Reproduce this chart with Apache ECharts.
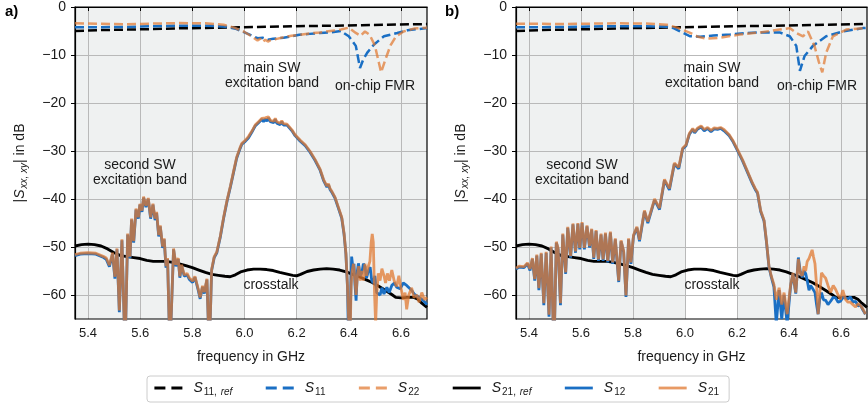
<!DOCTYPE html>
<html>
<head>
<meta charset="utf-8">
<title>S-parameters: SW excitation bands</title>
<script src="https://cdn.jsdelivr.net/npm/echarts@6/dist/echarts.min.js"></script>
<style>
  html, body { margin: 0; padding: 0; background: #ffffff; }
  #chart { width: 868px; height: 408px; }
</style>
</head>
<body>
<div id="chart"></div>
<script>
// ---- axes ----
const X_MIN = 5.35, X_MAX = 6.70;
const Y_MIN = -65, Y_MAX = 0;
const X_TICKS = [5.4, 5.6, 5.8, 6.0, 6.2, 6.4, 6.6];
const Y_TICKS = [0, -10, -20, -30, -40, -50, -60];
const BAND = [6.0, 6.2];   // main SW excitation band, left unshaded

// ---- reflection, reference structure (both panels) ----
const s11Ref = [[5.35,-5.0],[5.45,-4.8],[5.55,-4.7],[5.65,-4.6],[5.75,-4.45],[5.85,-4.35],[5.95,-4.25],[6.05,-4.15],[6.15,-4.05],[6.25,-3.95],[6.35,-3.9],[6.45,-3.8],[6.55,-3.7],[6.65,-3.6],[6.70,-3.55]];

// ---- crosstalk, reference structure (both panels) ----
const s21Ref = [[5.35,-49.8],[5.375,-49.5],[5.40,-49.4],[5.425,-49.5],[5.45,-49.8],[5.475,-50.4],[5.50,-51.2],[5.525,-51.8],[5.55,-52.0],[5.575,-52.2],[5.60,-52.4],[5.625,-52.8],[5.65,-53.0],[5.675,-53.0],[5.70,-53.0],[5.725,-53.2],[5.75,-53.5],[5.775,-53.9],[5.80,-54.3],[5.825,-54.8],[5.85,-55.3],[5.875,-55.7],[5.90,-55.9],[5.925,-56.1],[5.945,-56.2],[5.965,-55.8],[5.985,-55.2],[6.01,-54.8],[6.035,-54.6],[6.06,-54.6],[6.085,-54.7],[6.11,-54.9],[6.135,-55.3],[6.16,-55.6],[6.185,-55.9],[6.20,-56.0],[6.215,-55.7],[6.24,-55.1],[6.265,-54.8],[6.29,-54.6],[6.315,-54.5],[6.34,-54.6],[6.365,-54.8],[6.39,-55.2],[6.415,-55.7],[6.44,-56.2],[6.465,-56.8],[6.49,-57.4],[6.515,-58.2],[6.54,-59.0],[6.565,-59.9],[6.58,-60.5],[6.60,-60.6],[6.625,-60.5],[6.65,-60.5],[6.665,-60.9],[6.68,-61.7],[6.70,-62.6]];

// ---- panel a) ----
const s11A = [[5.35,-4.2],[5.45,-4.2],[5.55,-4.15],[5.65,-4.0],[5.75,-3.9],[5.85,-3.9],[5.93,-4.1],[5.97,-4.6],[6.0,-5.3],[6.03,-6.0],[6.05,-6.5],[6.07,-6.4],[6.09,-6.8],[6.11,-6.6],[6.13,-6.5],[6.15,-6.4],[6.18,-6.1],[6.21,-5.8],[6.25,-5.6],[6.29,-5.4],[6.33,-5.3],[6.37,-5.0],[6.40,-6.1],[6.427,-8.1],[6.443,-12.7],[6.455,-11.0],[6.471,-9.5],[6.497,-7.8],[6.535,-6.1],[6.586,-5.4],[6.625,-4.85],[6.70,-4.4]];
const s22A = [[5.35,-3.4],[5.45,-3.5],[5.55,-3.6],[5.65,-3.45],[5.75,-3.35],[5.85,-3.4],[5.92,-3.7],[5.96,-4.3],[6.0,-5.2],[6.03,-6.2],[6.05,-7.0],[6.06,-6.6],[6.07,-7.3],[6.08,-6.8],[6.09,-7.2],[6.10,-6.9],[6.12,-6.7],[6.15,-6.3],[6.18,-6.0],[6.21,-5.8],[6.25,-5.5],[6.29,-5.3],[6.33,-5.0],[6.37,-4.7],[6.40,-4.3],[6.427,-5.4],[6.445,-6.0],[6.462,-5.1],[6.48,-5.8],[6.50,-8.0],[6.515,-11.5],[6.524,-13.6],[6.54,-11.0],[6.56,-8.0],[6.58,-6.2],[6.61,-5.1],[6.65,-4.5],[6.70,-4.3]];
const s12A = [[5.35,-51.8],[5.37,-51.5],[5.40,-51.4],[5.43,-51.5],[5.46,-52.2],[5.470,-52.6],[5.482,-54.1],[5.494,-51.4],[5.503,-56.6],[5.511,-50.5],[5.520,-63.6],[5.530,-48.6],[5.542,-72],[5.552,-47.4],[5.561,-52.3],[5.567,-44.3],[5.575,-49.1],[5.584,-42.2],[5.593,-44.1],[5.599,-41.2],[5.607,-42.7],[5.613,-39.7],[5.622,-41.7],[5.631,-40.0],[5.640,-44.1],[5.649,-41.2],[5.657,-44.4],[5.663,-42.9],[5.671,-47.8],[5.677,-45.7],[5.686,-50.2],[5.692,-48.4],[5.699,-54.3],[5.705,-52.5],[5.714,-72],[5.728,-50.5],[5.737,-54.0],[5.746,-52.5],[5.752,-56.4],[5.759,-53.9],[5.769,-56.1],[5.780,-55.8],[5.788,-56.7],[5.801,-57.4],[5.810,-56.3],[5.823,-59.1],[5.830,-60.8],[5.839,-58.3],[5.846,-59.7],[5.856,-56.8],[5.865,-72],[5.874,-54.9],[5.884,-52.2],[5.894,-51.2],[5.907,-48.0],[5.920,-44.0],[5.933,-40.5],[5.946,-37.5],[5.958,-34.5],[5.970,-31.5],[5.983,-29.5],[5.990,-28.6],[6.003,-28.0],[6.015,-27.3],[6.028,-26.1],[6.041,-24.8],[6.054,-24.1],[6.067,-23.4],[6.073,-23.9],[6.079,-23.3],[6.086,-23.8],[6.092,-23.1],[6.099,-23.9],[6.105,-23.6],[6.112,-24.1],[6.118,-23.4],[6.124,-24.2],[6.130,-24.0],[6.137,-24.5],[6.143,-23.9],[6.150,-24.6],[6.156,-24.4],[6.163,-24.6],[6.169,-24.8],[6.182,-25.8],[6.194,-26.8],[6.213,-27.9],[6.233,-28.9],[6.252,-30.3],[6.271,-32.0],[6.290,-34.0],[6.303,-36.1],[6.316,-37.5],[6.322,-37.0],[6.328,-38.0],[6.335,-38.6],[6.347,-39.8],[6.360,-41.9],[6.373,-44.0],[6.382,-47.4],[6.389,-51.5],[6.395,-58.3],[6.400,-72],[6.405,-66],[6.411,-52.0],[6.416,-54.5],[6.420,-53.5],[6.424,-58.0],[6.428,-61.2],[6.433,-55.0],[6.437,-53.4],[6.444,-56.0],[6.450,-55.4],[6.456,-53.5],[6.462,-54.0],[6.468,-56.5],[6.475,-55.0],[6.482,-54.2],[6.488,-57.0],[6.494,-57.5],[6.500,-56.0],[6.507,-59.5],[6.513,-59.2],[6.520,-60.0],[6.527,-58.5],[6.535,-59.8],[6.546,-58.4],[6.555,-59.5],[6.565,-58.0],[6.575,-57.5],[6.584,-58.4],[6.597,-58.7],[6.609,-57.5],[6.622,-58.0],[6.633,-58.6],[6.641,-59.0],[6.651,-59.8],[6.661,-60.2],[6.670,-60.5],[6.680,-60.9],[6.690,-61.4],[6.700,-62.0]];
const s21A = [[5.35,-51.6],[5.37,-51.3],[5.40,-51.2],[5.43,-51.3],[5.46,-52.0],[5.470,-52.3],[5.482,-53.8],[5.494,-51.2],[5.503,-56.2],[5.511,-50.3],[5.520,-63.2],[5.530,-48.4],[5.542,-72],[5.552,-47.2],[5.561,-52.0],[5.567,-44.1],[5.575,-48.8],[5.584,-42.0],[5.593,-43.8],[5.599,-41.0],[5.607,-42.4],[5.613,-39.5],[5.622,-41.4],[5.631,-39.8],[5.640,-43.8],[5.649,-41.0],[5.657,-44.1],[5.663,-42.7],[5.671,-47.5],[5.677,-45.5],[5.686,-49.9],[5.692,-48.2],[5.699,-54.0],[5.705,-52.3],[5.714,-72],[5.728,-50.3],[5.737,-53.7],[5.746,-52.3],[5.752,-56.1],[5.759,-53.7],[5.769,-55.8],[5.780,-55.5],[5.788,-56.4],[5.801,-57.1],[5.810,-56.1],[5.823,-58.8],[5.830,-60.5],[5.839,-58.1],[5.846,-59.4],[5.856,-56.6],[5.865,-72],[5.874,-54.7],[5.884,-52.0],[5.894,-51.0],[5.907,-47.8],[5.920,-43.8],[5.933,-40.3],[5.946,-37.3],[5.958,-34.3],[5.970,-31.3],[5.983,-29.3],[5.990,-28.4],[6.003,-27.8],[6.015,-27.0],[6.028,-25.9],[6.041,-24.6],[6.054,-23.9],[6.067,-23.2],[6.073,-23.6],[6.079,-23.1],[6.086,-23.5],[6.092,-22.9],[6.099,-23.6],[6.105,-23.4],[6.112,-23.8],[6.118,-23.2],[6.124,-23.9],[6.130,-23.8],[6.137,-24.2],[6.143,-23.7],[6.150,-24.3],[6.156,-24.2],[6.163,-24.4],[6.169,-24.6],[6.182,-25.6],[6.194,-26.6],[6.213,-27.7],[6.233,-28.7],[6.252,-30.1],[6.271,-31.8],[6.290,-33.8],[6.303,-35.9],[6.316,-37.3],[6.322,-36.8],[6.328,-37.8],[6.335,-38.4],[6.347,-39.6],[6.360,-41.7],[6.373,-43.8],[6.382,-47.2],[6.389,-51.3],[6.395,-58.1],[6.400,-66],[6.404,-72],[6.409,-58.0],[6.413,-55.0],[6.418,-53.5],[6.423,-56.5],[6.428,-60.0],[6.433,-56.0],[6.438,-54.0],[6.444,-57.0],[6.450,-55.0],[6.456,-57.0],[6.462,-53.5],[6.468,-56.0],[6.475,-54.0],[6.481,-53.0],[6.486,-49.0],[6.490,-47.3],[6.494,-49.0],[6.499,-60.0],[6.503,-66.0],[6.507,-60.0],[6.513,-55.5],[6.520,-57.0],[6.527,-54.5],[6.535,-56.0],[6.541,-57.5],[6.548,-55.5],[6.556,-57.0],[6.565,-54.8],[6.574,-57.0],[6.584,-58.2],[6.592,-56.0],[6.600,-58.5],[6.609,-61.0],[6.616,-59.5],[6.622,-63.0],[6.630,-60.0],[6.641,-58.5],[6.650,-60.5],[6.661,-60.0],[6.670,-61.5],[6.680,-59.5],[6.690,-61.0],[6.700,-60.5]];

// ---- panel b) ----
const s11B = [[5.35,-4.2],[5.45,-4.2],[5.55,-4.15],[5.65,-4.05],[5.75,-4.0],[5.85,-4.0],[5.93,-4.1],[5.956,-4.4],[5.981,-5.1],[6.02,-6.1],[6.058,-6.2],[6.109,-5.95],[6.173,-5.75],[6.236,-5.4],[6.30,-5.3],[6.364,-5.3],[6.403,-6.1],[6.428,-8.1],[6.442,-13.3],[6.46,-10.2],[6.492,-8.1],[6.543,-6.1],[6.607,-5.1],[6.684,-4.4],[6.70,-4.35]];
const s22B = [[5.35,-3.5],[5.45,-3.5],[5.55,-3.55],[5.65,-3.45],[5.75,-3.4],[5.85,-3.45],[5.93,-3.7],[5.97,-4.3],[6.02,-5.4],[6.05,-6.2],[6.083,-6.6],[6.134,-6.4],[6.211,-5.75],[6.288,-5.3],[6.364,-4.7],[6.403,-4.4],[6.428,-5.4],[6.454,-6.1],[6.473,-5.1],[6.498,-8.1],[6.515,-11.5],[6.528,-13.6],[6.543,-9.5],[6.569,-6.1],[6.62,-4.7],[6.684,-4.4],[6.70,-4.35]];
const s12B = [[5.35,-54.6],[5.362,-54.2],[5.381,-54.3],[5.394,-53.5],[5.404,-54.9],[5.413,-52.5],[5.422,-57.0],[5.430,-51.8],[5.438,-59.0],[5.447,-51.4],[5.457,-62.1],[5.466,-51.2],[5.477,-64.5],[5.485,-50.1],[5.496,-72],[5.505,-49.1],[5.512,-50.5],[5.521,-62.1],[5.530,-47.4],[5.541,-55.6],[5.549,-46.0],[5.560,-52.2],[5.569,-45.3],[5.579,-51.2],[5.588,-45.2],[5.595,-50.5],[5.604,-45.0],[5.613,-50.5],[5.623,-45.7],[5.633,-50.1],[5.641,-46.4],[5.649,-52.5],[5.658,-46.7],[5.667,-52.9],[5.677,-47.4],[5.685,-52.9],[5.694,-47.2],[5.703,-53.2],[5.713,-47.0],[5.722,-53.5],[5.732,-48.4],[5.745,-57.3],[5.754,-48.8],[5.764,-51.0],[5.773,-60.4],[5.783,-48.4],[5.792,-53.5],[5.802,-47.7],[5.815,-46.0],[5.825,-48.8],[5.844,-42.6],[5.857,-45.0],[5.883,-40.2],[5.902,-42.2],[5.921,-36.1],[5.940,-38.1],[5.959,-32.7],[5.976,-33.7],[5.991,-29.6],[6.004,-28.9],[6.017,-26.5],[6.030,-25.5],[6.037,-26.2],[6.043,-26.2],[6.049,-25.4],[6.055,-25.8],[6.062,-25.0],[6.068,-25.1],[6.074,-25.8],[6.081,-25.9],[6.087,-25.3],[6.093,-25.5],[6.100,-26.0],[6.106,-25.8],[6.112,-25.4],[6.118,-25.7],[6.125,-25.5],[6.131,-25.9],[6.137,-25.3],[6.144,-25.5],[6.150,-25.8],[6.157,-25.7],[6.170,-26.8],[6.183,-27.9],[6.202,-29.9],[6.221,-32.0],[6.240,-34.4],[6.259,-36.8],[6.270,-38.0],[6.279,-38.8],[6.291,-42.6],[6.304,-44.6],[6.313,-48.8],[6.323,-54.2],[6.332,-56.3],[6.342,-58.3],[6.351,-66],[6.362,-59.0],[6.372,-65],[6.381,-60.0],[6.393,-66],[6.406,-58.2],[6.415,-55.6],[6.426,-59.7],[6.436,-52.2],[6.443,-55.0],[6.451,-56.3],[6.458,-55.0],[6.464,-55.5],[6.470,-57.0],[6.477,-59.0],[6.483,-58.0],[6.489,-58.5],[6.500,-59.5],[6.506,-62.0],[6.512,-64.0],[6.518,-61.0],[6.525,-59.5],[6.533,-61.0],[6.541,-61.1],[6.550,-62.0],[6.560,-61.3],[6.570,-60.5],[6.579,-60.6],[6.589,-61.5],[6.598,-61.3],[6.607,-60.5],[6.617,-60.6],[6.627,-60.8],[6.636,-60.4],[6.646,-61.5],[6.656,-61.3],[6.666,-62.3],[6.675,-62.1],[6.685,-63.2],[6.694,-64.0]];
const s21B = [[5.35,-54.4],[5.362,-54.0],[5.381,-54.1],[5.394,-53.3],[5.404,-54.6],[5.413,-52.3],[5.422,-56.7],[5.430,-51.6],[5.438,-58.6],[5.447,-51.2],[5.457,-61.7],[5.466,-51.0],[5.477,-64.1],[5.485,-49.9],[5.496,-72],[5.505,-48.9],[5.512,-50.3],[5.521,-61.7],[5.530,-47.2],[5.541,-55.3],[5.549,-45.8],[5.560,-51.9],[5.569,-45.1],[5.579,-50.9],[5.588,-45.0],[5.595,-50.2],[5.604,-44.8],[5.613,-50.2],[5.623,-45.5],[5.633,-49.8],[5.641,-46.2],[5.649,-52.2],[5.658,-46.5],[5.667,-52.6],[5.677,-47.2],[5.685,-52.6],[5.694,-47.0],[5.703,-52.9],[5.713,-46.8],[5.722,-53.2],[5.732,-48.2],[5.745,-57.0],[5.754,-48.6],[5.764,-50.8],[5.773,-60.1],[5.783,-48.2],[5.792,-53.2],[5.802,-47.5],[5.815,-45.8],[5.825,-48.5],[5.844,-42.4],[5.857,-44.7],[5.883,-40.0],[5.902,-41.9],[5.921,-35.9],[5.940,-37.8],[5.959,-32.5],[5.976,-33.4],[5.991,-29.4],[6.004,-28.7],[6.017,-26.3],[6.030,-25.3],[6.037,-26.0],[6.043,-25.9],[6.049,-25.2],[6.055,-25.5],[6.062,-24.8],[6.068,-24.9],[6.074,-25.5],[6.081,-25.6],[6.087,-25.1],[6.093,-25.3],[6.100,-25.7],[6.106,-25.5],[6.112,-25.2],[6.118,-25.4],[6.125,-25.3],[6.131,-25.6],[6.137,-25.1],[6.144,-25.3],[6.150,-25.5],[6.157,-25.5],[6.170,-26.6],[6.183,-27.7],[6.202,-29.7],[6.221,-31.8],[6.240,-34.2],[6.259,-36.6],[6.270,-37.8],[6.279,-38.6],[6.291,-42.4],[6.304,-44.4],[6.313,-48.6],[6.323,-54.0],[6.332,-56.1],[6.342,-57.8],[6.351,-61.0],[6.362,-58.5],[6.372,-62.0],[6.381,-59.5],[6.393,-64.0],[6.406,-58.0],[6.415,-55.4],[6.426,-59.5],[6.436,-52.5],[6.443,-55.5],[6.451,-56.0],[6.458,-54.0],[6.464,-55.0],[6.470,-53.0],[6.477,-52.4],[6.483,-51.5],[6.489,-50.6],[6.494,-52.0],[6.500,-53.5],[6.506,-58.0],[6.512,-64.0],[6.518,-60.0],[6.525,-55.4],[6.533,-56.0],[6.541,-56.5],[6.550,-58.0],[6.560,-59.5],[6.570,-58.0],[6.579,-58.8],[6.589,-60.0],[6.598,-60.9],[6.607,-59.0],[6.617,-60.9],[6.627,-61.5],[6.636,-61.5],[6.646,-62.0],[6.656,-62.5],[6.666,-61.8],[6.675,-62.2],[6.685,-63.0],[6.694,-64.0]];

const SERIES_NAMES = ['S11,ref', 'S11', 'S22', 'S21,ref', 'S12', 'S21'];
const PANEL_LABELS = ['a)', 'b)'];

// ---- styling ----
const FONT = '"Liberation Sans", Arial, Helvetica, sans-serif';
const TXT = '#1a1a1a';
const BLUE = '#1a6fc4';
const ORANGE = '#e07830';
const SHADE = '#eff1f1';
const GRIDLINE = '#b9b9b9';
const DASH = [9, 4];

const panels = [
  { grid: { left: 75, top: 4, width: 352, height: 315 },
    data: [s11Ref, s11A, s22A, s21Ref, s12A, s21A] },
  { grid: { left: 516, top: 4, width: 351, height: 315 },
    data: [s11Ref, s11B, s22B, s21Ref, s12B, s21B] }
];

const lineStyles = [
  { color: '#000000', width: 2.5, type: DASH },
  { color: BLUE, width: 2.5, type: DASH },
  { color: ORANGE, width: 2.5, type: DASH, opacity: 0.72 },
  { color: '#000000', width: 2.9, type: 'solid' },
  { color: BLUE, width: 2.8, type: 'solid' },
  { color: ORANGE, width: 2.8, type: 'solid', opacity: 0.75 }
];

const subRich = {
  S: { fontFamily: FONT, fontSize: 14, fontStyle: 'italic', color: TXT, lineHeight: 18 },
  sub: { fontFamily: FONT, fontSize: 10, color: TXT, lineHeight: 10, verticalAlign: 'bottom', padding: [4, 0, 0, 1] },
  subi: { fontFamily: FONT, fontSize: 10, fontStyle: 'italic', color: TXT, lineHeight: 10, verticalAlign: 'bottom', padding: [4, 0, 0, 1] },
  t: { fontFamily: FONT, fontSize: 14, color: TXT, lineHeight: 18 }
};

const grids = [], xAxes = [], yAxes = [], series = [];

panels.forEach((p, i) => {
  grids.push(Object.assign({ show: true, borderColor: '#000', borderWidth: 1.2, backgroundColor: 'transparent', containLabel: false }, p.grid));

  xAxes.push({
    type: 'value', gridIndex: i, min: X_MIN, max: X_MAX,
    name: 'frequency in GHz', nameLocation: 'middle', nameGap: 31,
    nameTextStyle: { fontFamily: FONT, fontSize: 14, color: TXT },
    axisLine: { show: true, lineStyle: { color: '#000', width: 1.2 } },
    axisTick: { show: true, inside: false, length: 4, customValues: X_TICKS, lineStyle: { color: '#000', width: 1 } },
    axisLabel: { customValues: X_TICKS, margin: 8, fontFamily: FONT, fontSize: 13, color: TXT, formatter: v => v.toFixed(1) },
    splitLine: { show: false }
  });

  yAxes.push({
    type: 'value', gridIndex: i, min: Y_MIN, max: Y_MAX,
    name: '{t||}{S|S}{subi|xx, xy}{t|| in dB}', nameLocation: 'middle', nameGap: 46, nameRotate: 90,
    nameTextStyle: { rich: subRich },
    axisLine: { show: true, lineStyle: { color: '#000', width: 1.2 } },
    axisTick: { show: true, inside: false, length: 4, customValues: Y_TICKS, lineStyle: { color: '#000', width: 1 } },
    axisLabel: { customValues: Y_TICKS, margin: 9, fontFamily: FONT, fontSize: 14, color: TXT,
                 formatter: v => (v < 0 ? '\u2212' + Math.abs(v) : String(v)) },
    splitLine: { show: false }
  });

  // shaded plot background outside the main band, plus the tick grid
  series.push({
    type: 'line', xAxisIndex: i, yAxisIndex: i, data: [], silent: true,
    markArea: {
      z: -5, silent: true, itemStyle: { color: SHADE },
      data: [[{ xAxis: X_MIN }, { xAxis: BAND[0] }], [{ xAxis: BAND[1] }, { xAxis: X_MAX }]]
    },
    markLine: {
      z: -4, silent: true, symbol: ['none', 'none'], label: { show: false },
      lineStyle: { color: GRIDLINE, width: 1, type: 'solid' },
      emphasis: { disabled: true },
      data: X_TICKS.map(v => ({ xAxis: v })).concat(Y_TICKS.filter(v => v > Y_MIN && v < Y_MAX).map(v => ({ yAxis: v })))
    }
  });

  SERIES_NAMES.forEach((name, k) => {
    series.push({
      name, type: 'line', xAxisIndex: i, yAxisIndex: i,
      data: p.data[k], showSymbol: false, symbol: 'none', clip: true,
      lineStyle: lineStyles[k], itemStyle: { color: lineStyles[k].color },
      emphasis: { disabled: true }, z: 2 + k
    });
  });
});

function legendLabel(name) {
  const parts = name.slice(1).split(',');
  let s = '{S|S}{sub|' + parts[0] + (parts[1] ? ',' : '') + '}';
  if (parts[1]) s += '{subi| ' + parts[1] + '}';
  return s;
}

const legendItems = SERIES_NAMES.map((name, k) => ({
  name,
  lineStyle: { width: 2.8, type: lineStyles[k].type === 'solid' ? 'solid' : [11, 6] }
}));

const annoStyle = { fontFamily: FONT, fontSize: 14, fill: TXT, textAlign: 'center', textVerticalAlign: 'middle', lineHeight: 15 };
function anno(text, x, y) {
  return { type: 'text', x, y, z: 10, silent: true, style: Object.assign({ text }, annoStyle) };
}

const chart = echarts.init(document.getElementById('chart'), null, { renderer: 'canvas' });
chart.setOption({
  animation: false,
  backgroundColor: '#ffffff',
  grid: grids,
  xAxis: xAxes,
  yAxis: yAxes,
  legend: {
    data: legendItems, left: 147, top: 376,
    padding: [5, 10, 5, 6], itemGap: 32, itemWidth: 28, itemHeight: 14,
    borderColor: '#cccccc', borderWidth: 1, borderRadius: 3, backgroundColor: '#ffffff',
    itemStyle: { opacity: 0 },
    formatter: legendLabel,
    textStyle: { rich: Object.assign({}, subRich, { S: Object.assign({}, subRich.S, { padding: [0, 0, 0, 6] }) }) },
    selectedMode: false
  },
  graphic: [
    { type: 'text', x: 5, y: 12, style: { text: PANEL_LABELS[0], fontFamily: FONT, fontSize: 15, fontWeight: 'bold', fill: '#000', textVerticalAlign: 'middle' } },
    { type: 'text', x: 445, y: 12, style: { text: PANEL_LABELS[1], fontFamily: FONT, fontSize: 15, fontWeight: 'bold', fill: '#000', textVerticalAlign: 'middle' } },
    anno('main SW\nexcitation band', 272, 76),
    anno('on-chip FMR', 375, 86),
    anno('second SW\nexcitation band', 140, 173),
    anno('crosstalk', 271, 285),
    anno('main SW\nexcitation band', 712, 76),
    anno('on-chip FMR', 817, 86),
    anno('second SW\nexcitation band', 582, 173),
    anno('crosstalk', 712, 285)
  ],
  series
});
</script>
</body>
</html>
